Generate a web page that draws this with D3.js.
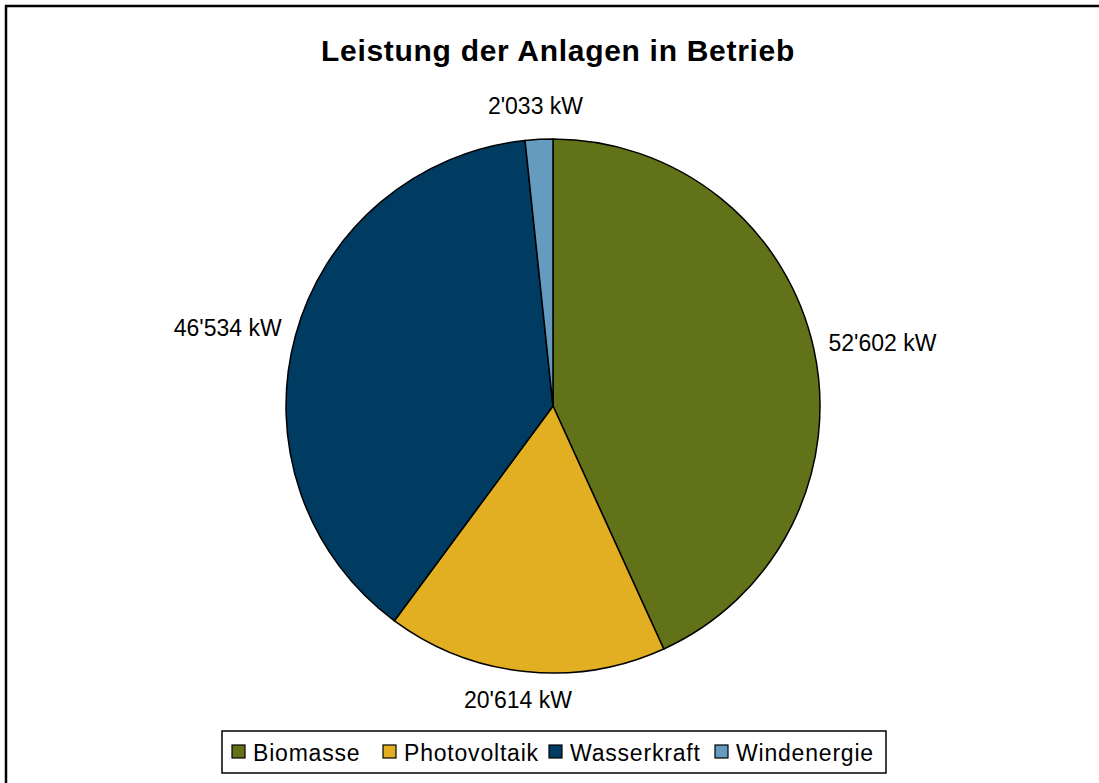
<!DOCTYPE html>
<html><head><meta charset="utf-8">
<script src="https://cdn.jsdelivr.net/npm/d3@7"></script>
<style>body{margin:0;background:#fff}svg{display:block}text{font-family:"Liberation Sans",Arial,sans-serif}</style>
</head><body>
<svg id="c" width="1099" height="783"></svg>
<script>
const title = "Leistung der Anlagen in Betrieb";
const categories = ["Biomasse", "Photovoltaik", "Wasserkraft", "Windenergie"];
const values = [52602, 20614, 46534, 2033];
const labels = ["52'602 kW", "20'614 kW", "46'534 kW", "2'033 kW"];
const colors = ["#627219", "#E1AF21", "#003B61", "#649BBF"];

const svg = d3.select("#c");
svg.append("rect").attr("x",6).attr("y",6).attr("width",1200).attr("height",900)
  .attr("fill","#fff").attr("stroke","#000").attr("stroke-width",2.5);

svg.append("text").attr("x",558).attr("y",61).attr("text-anchor","middle")
  .attr("font-size",30).attr("font-weight","bold").attr("letter-spacing",0.7).text(title);

const cx = 553, cy = 406, R = 267;
const data = categories.map((c,i)=>({c, v:values[i], l:labels[i], col:colors[i]}));
const pie = d3.pie().value(d=>d.v).sort(null);
const arc = d3.arc().innerRadius(0).outerRadius(R);
const g = svg.append("g").attr("transform",`translate(${cx},${cy})`);
const arcs = pie(data);
g.selectAll("path").data(arcs).join("path").attr("d",arc)
  .attr("fill",d=>d.data.col).attr("stroke","#000").attr("stroke-width",1.5);

arcs.forEach((a,i)=>{
  const m = (a.startAngle+a.endAngle)/2;
  const s = Math.sin(m), co = Math.cos(m);
  const r = R + 16 + (i===3?4:0);
  const px = r*s, py = -r*co;
  const t = g.append("text").attr("font-size",23).text(a.data.l);
  const bb = t.node().getBBox();
  const w = bb.width, h = 26;
  const ccx = px + w/2*s, ccy = py - h/2*co;
  t.attr("x",ccx).attr("y",ccy).attr("text-anchor","middle").attr("dominant-baseline","central");
});

// legend
const lg = svg.append("g");
lg.append("rect").attr("x",222).attr("y",731).attr("width",664).attr("height",42)
  .attr("fill","#fff").attr("stroke","#000").attr("stroke-width",1.5);
const lx = [232, 383, 549, 715];
data.forEach((d,i)=>{
  lg.append("rect").attr("x",lx[i]).attr("y",745).attr("width",13).attr("height",13)
    .attr("fill",d.col).attr("stroke","#000").attr("stroke-width",1.2);
  lg.append("text").attr("x",lx[i]+21).attr("y",761).attr("font-size",23)
    .attr("letter-spacing",0.8).text(d.c);
});
</script>
</body></html>
